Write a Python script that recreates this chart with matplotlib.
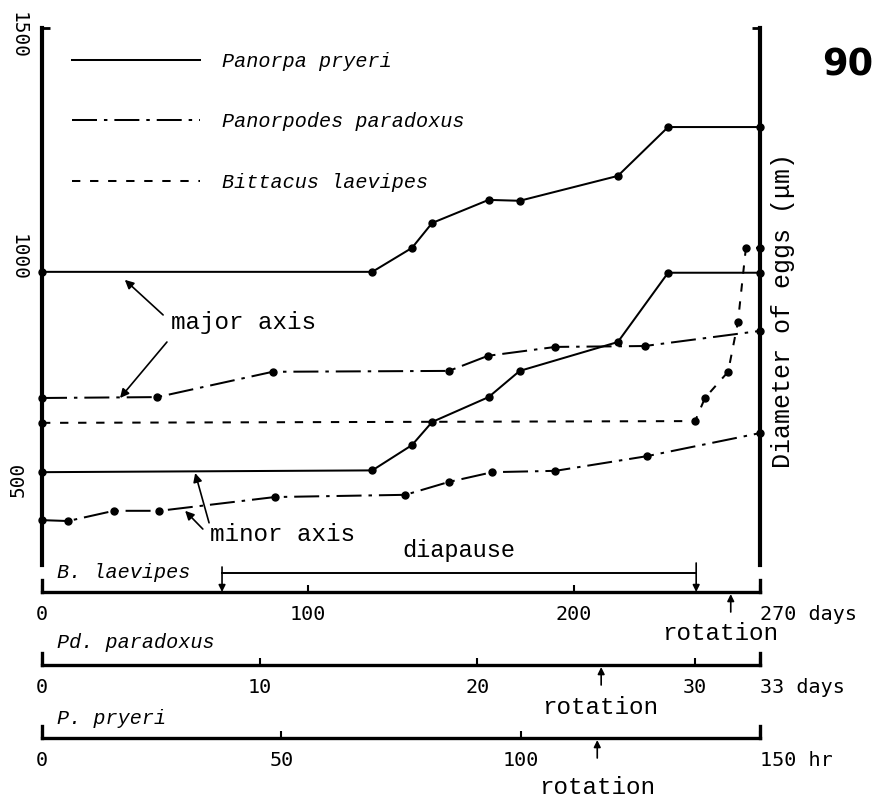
import matplotlib
matplotlib.use("Agg")
import matplotlib.pyplot as plt
from matplotlib.lines import Line2D
from matplotlib.font_manager import FontProperties

plt.rcParams["lines.scale_dashes"] = False

# egg size (um) vs. time, each species on its own time scale
p_hours = [0, 69, 77.3, 81.5, 93.3, 99.8, 120.3, 130.8, 150]
p_major = [967, 967, 1021, 1077, 1129, 1127, 1183, 1293, 1293]
p_minor = [516, 520, 577, 629, 685, 744, 809, 965, 965]

pd_major_days = [0, 5.3, 10.6, 18.7, 20.5, 23.6, 27.7, 33]
pd_major = [683, 685, 742, 744, 778, 798, 800, 834]
pd_minor_days = [0, 1.2, 3.3, 5.4, 10.7, 16.7, 18.7, 20.7, 23.6, 27.8, 33]
pd_minor = [408, 406, 429, 429, 460, 465, 494, 516, 519, 552, 604]

bl_days = [0, 245.6, 249.3, 258.0, 261.7, 264.7, 270]
bl_values = [627, 631, 683, 742, 854, 1021, 1021]

diapause = (67.7, 246)
rotation_bl = 259     # days
rotation_pd = 25.7    # days
rotation_p = 116      # hr

species = ["Panorpa pryeri", "Panorpodes paradoxus", "Bittacus laevipes"]

W, H = 877, 799
fig = plt.figure(figsize=(W / 100, H / 100), dpi=100)

MONO = "Liberation Mono"
NUM = "DejaVu Sans Mono"
SOLID = "-"
DASHDOT = (0, (18, 5, 2.5, 5))
DASHED = (0, (6, 7))
AP = dict(arrowstyle="-|>", color="k", lw=1.2, mutation_scale=13, shrinkA=0, shrinkB=0)

L, R = 42 / W, 760 / W
ax = fig.add_axes([L, 1 - 565 / H, R - L, (565 - 28) / H])
ax.set_xlim(0, 150)
ax.set_ylim(307, 1516)
ax_pd = ax.twiny()
ax_pd.set_xlim(0, 33)
ax_bl = ax.twiny()
ax_bl.set_xlim(0, 270)
for a in (ax_pd, ax_bl):
    a.set_axis_off()

kw = dict(color="black", lw=1.45, marker="o", ms=5, clip_on=False)
ax.plot(p_hours, p_major, ls=SOLID, **kw)
ax.plot(p_hours, p_minor, ls=SOLID, **kw)
ax_pd.plot(pd_major_days, pd_major, ls=DASHDOT, **kw)
ax_pd.plot(pd_minor_days, pd_minor, ls=DASHDOT, **kw)
ax_bl.plot(bl_days, bl_values, ls=DASHED, **kw)

for s in ("top", "bottom"):
    ax.spines[s].set_visible(False)
for s in ("left", "right"):
    ax.spines[s].set_linewidth(3)
ax.set_xticks([])
ax.set_yticks([500, 1000, 1500], ["500", "1000", "1500"])
ax.tick_params(axis="y", length=0, pad=10, labelsize=14)
for lab in ax.get_yticklabels():
    lab.set_family(NUM)
    lab.set_va("center")
    lab.set_rotation(90 if lab.get_text() == "500" else -90)
ax.set_yticks([1516], minor=True)
ax.tick_params(axis="y", which="minor", direction="in", length=6, width=2,
               left=True, right=True)

handles = [Line2D([], [], color="k", lw=1.45, ls=s) for s in (SOLID, DASHDOT, DASHED)]
ax.legend(handles, species, loc="upper left", bbox_to_anchor=(0.0418, 0.956),
          frameon=False, prop=FontProperties(family=MONO, style="italic", size=14.5),
          handlelength=6.36, handletextpad=1.09, labelspacing=2.07,
          borderpad=0, borderaxespad=0)

# axis labels inside the plot
ax.text(42.0, 854, "major axis", ha="center", va="center", family=MONO, size=17.5)
ax.annotate("", xy=(17.3, 949), xytext=(25.3, 870), arrowprops=AP)
ax.annotate("", xy=(16.3, 683), xytext=(26.1, 809), arrowprops=AP)
ax.text(50.3, 375, "minor axis", ha="center", va="center", family=MONO, size=17.5)
ax.annotate("", xy=(32.0, 514), xytext=(34.9, 402), arrowprops=AP)
ax.annotate("", xy=(29.9, 429), xytext=(33.6, 388), arrowprops=AP)

ax.text(1.032, 0.473, "Diameter of eggs (\u03bcm)", transform=ax.transAxes,
        rotation=90, ha="center", va="center", family=MONO, size=18)
fig.text(848 / W, 1 - 65 / H, "90", ha="center", va="center",
         family="DejaVu Sans", weight="bold", size=26.5)


def time_axis(py, tmax, ticks, labels, name, name_dy):
    a = fig.add_axes([L, 1 - py / H, R - L, 12 / H])
    a.set_xlim(0, tmax)
    a.set_ylim(0, 1)
    a.patch.set_visible(False)
    a.spines["top"].set_visible(False)
    for s in ("left", "right", "bottom"):
        a.spines[s].set_linewidth(2.4)
    a.set_yticks([])
    a.set_xticks(ticks, labels)
    a.tick_params(axis="x", direction="in", length=5, width=1.5, pad=9.5, labelsize=14.5)
    for lab in a.get_xticklabels():
        lab.set_family(NUM)
    a.get_xticklabels()[-1].set_ha("left")
    a.annotate(name, xy=(0, 0), xycoords="axes fraction", xytext=(11, name_dy * 0.72),
               textcoords="offset points", ha="left", va="center",
               family=MONO, style="italic", size=14.5)
    return a


def rotation_mark(a, t, dx, dy):
    a.annotate("", xy=(t, 0), xycoords=("data", "axes fraction"),
               xytext=(0, -20 * 0.72), textcoords="offset points",
               arrowprops=dict(AP, mutation_scale=10, shrinkB=1.5))
    a.annotate("rotation", xy=(t, 0), xycoords=("data", "axes fraction"),
               xytext=(dx * 0.72, dy * 0.72), textcoords="offset points",
               ha="center", va="center", family=MONO, size=17.5)


a_bl = time_axis(592, 270, [0, 100, 200, 270], ["0", "100", "200", "270 days"],
                 "B. laevipes", 20)
a_pd = time_axis(665, 33, [0, 10, 20, 30, 33], ["0", "10", "20", "30", "33 days"],
                 "Pd. paradoxus", 22)
a_p = time_axis(738, 150, [0, 50, 100, 150], ["0", "50", "100", "150 hr"],
                "P. pryeri", 20)

# diapause bracket on the B. laevipes scale
tr = a_bl.get_xaxis_transform()
a_bl.plot(diapause, [19 / 12, 19 / 12], transform=tr, color="k", lw=1.4, clip_on=False)
a_bl.annotate("", xy=(diapause[0], 0), xycoords=tr, xytext=(diapause[0], 25 / 12),
              textcoords=tr, arrowprops=dict(AP, mutation_scale=10))
a_bl.annotate("", xy=(diapause[1], 0), xycoords=tr, xytext=(diapause[1], 29 / 12),
              textcoords=tr, arrowprops=dict(AP, mutation_scale=10))
a_bl.text(sum(diapause) / 2, 42 / 12, "diapause", transform=tr, ha="center",
          va="center", family=MONO, size=17)

rotation_mark(a_bl, rotation_bl, -11, -42)
rotation_mark(a_pd, rotation_pd, -1, -42)
rotation_mark(a_p, rotation_p, 0, -49)

fig.savefig("out.png", dpi=100)
